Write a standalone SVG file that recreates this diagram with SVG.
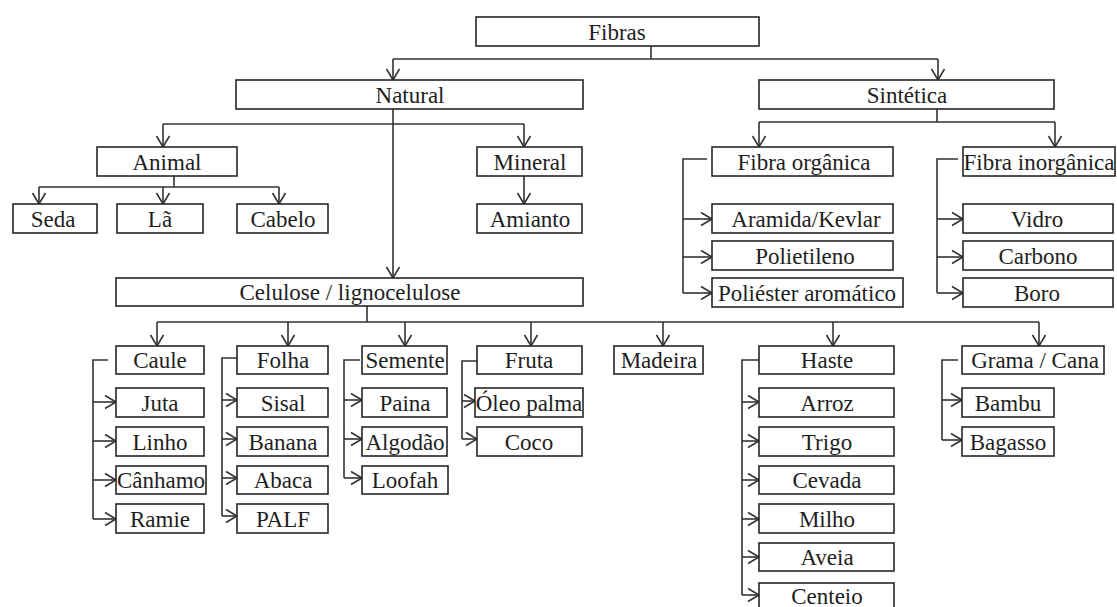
<svg xmlns="http://www.w3.org/2000/svg" width="1117" height="607" viewBox="0 0 1117 607">
<style>
.box{fill:#fff;stroke:#262626;stroke-width:1.6}
.t{font-family:"Liberation Serif","Times New Roman",serif;font-size:23px;fill:#1e1e1e;text-anchor:middle}
.c{fill:none;stroke:#333;stroke-width:1.6}
.a{fill:none;stroke:#333;stroke-width:1.6;marker-end:url(#ah)}
</style>
<defs>
<marker id="ah" markerUnits="userSpaceOnUse" markerWidth="24" markerHeight="24" viewBox="-12 -12 24 24" refX="0" refY="0" orient="auto" overflow="visible">
<path d="M-11,-6.5 L0,0 L-11,6.5" fill="none" stroke="#333" stroke-width="1.6"/>
</marker>
</defs>
<rect width="1117" height="607" fill="#fff"/>
<g id="connectors">
<path class="c" d="M651,46 V59 M393,59 H938"/>
<path class="a" d="M393,59 V80"/>
<path class="a" d="M938,59 V80"/>
<path class="a" d="M393,109 V278"/>
<path class="c" d="M163,124 H524"/>
<path class="a" d="M163,124 V147"/>
<path class="a" d="M524,124 V147"/>
<path class="c" d="M174,176 V187 M39,187 H279"/>
<path class="a" d="M39,187 V204"/>
<path class="a" d="M163,187 V204"/>
<path class="a" d="M279,187 V204"/>
<path class="a" d="M524,176 V204"/>
<path class="c" d="M937,109 V122 M759,122 H1055"/>
<path class="a" d="M759,122 V147"/>
<path class="a" d="M1055,122 V147"/>
<path class="c" d="M707,159 H683 V293"/>
<path class="a" d="M683,219 H712"/>
<path class="a" d="M683,257 H712"/>
<path class="a" d="M683,293 H712"/>
<path class="c" d="M958,159 H937 V293"/>
<path class="a" d="M937,219 H963"/>
<path class="a" d="M937,257 H963"/>
<path class="a" d="M937,293 H963"/>
<path class="c" d="M367,306 V322 M157,322 H1039"/>
<path class="a" d="M157,322 V346"/>
<path class="a" d="M288,322 V346"/>
<path class="a" d="M405,322 V346"/>
<path class="a" d="M531,322 V346"/>
<path class="a" d="M663,322 V346"/>
<path class="a" d="M833,322 V346"/>
<path class="a" d="M1039,322 V346"/>
<path class="c" d="M108,360 H93 V519"/>
<path class="a" d="M93,402 H116"/>
<path class="a" d="M93,441 H116"/>
<path class="a" d="M93,480 H116"/>
<path class="a" d="M93,519 H116"/>
<path class="c" d="M237,358 H222 V516"/>
<path class="a" d="M222,400 H237"/>
<path class="a" d="M222,439 H237"/>
<path class="a" d="M222,478 H237"/>
<path class="a" d="M222,516 H237"/>
<path class="c" d="M360,360 H344 V478"/>
<path class="a" d="M344,400 H362"/>
<path class="a" d="M344,439 H362"/>
<path class="a" d="M344,478 H362"/>
<path class="c" d="M477,361 H462 V439"/>
<path class="a" d="M462,401 H475"/>
<path class="a" d="M462,439 H477"/>
<path class="c" d="M759,360 H742 V595"/>
<path class="a" d="M742,402 H759"/>
<path class="a" d="M742,441 H759"/>
<path class="a" d="M742,480 H759"/>
<path class="a" d="M742,519 H759"/>
<path class="a" d="M742,557 H759"/>
<path class="a" d="M742,595 H759"/>
<path class="c" d="M958,360 H942 V440"/>
<path class="a" d="M942,400 H962"/>
<path class="a" d="M942,440 H962"/>
</g>
<g id="n-fibras"><rect class="box" x="476" y="17" width="283" height="29"/><text class="t" x="617" y="40">Fibras</text></g>
<g id="n-natural"><rect class="box" x="236" y="80" width="347" height="29"/><text class="t" x="410" y="103">Natural</text></g>
<g id="n-sintetica"><rect class="box" x="759" y="80" width="295" height="29"/><text class="t" x="907" y="103">Sintética</text></g>
<g id="n-animal"><rect class="box" x="97" y="147" width="140" height="29"/><text class="t" x="167" y="170">Animal</text></g>
<g id="n-mineral"><rect class="box" x="477" y="147" width="105" height="29"/><text class="t" x="530" y="170">Mineral</text></g>
<g id="n-seda"><rect class="box" x="13" y="204" width="84" height="29"/><text class="t" x="53" y="227">Seda</text></g>
<g id="n-la"><rect class="box" x="117" y="204" width="86" height="29"/><text class="t" x="160" y="227">Lã</text></g>
<g id="n-cabelo"><rect class="box" x="237" y="204" width="91" height="29"/><text class="t" x="283" y="227">Cabelo</text></g>
<g id="n-amianto"><rect class="box" x="477" y="204" width="105" height="29"/><text class="t" x="530" y="227">Amianto</text></g>
<g id="n-fibra-organica"><rect class="box" x="712" y="147" width="181" height="29"/><text class="t" x="804" y="170">Fibra orgânica</text></g>
<g id="n-fibra-inorganica"><rect class="box" x="963" y="147" width="152" height="29"/><text class="t" x="1039" y="170">Fibra inorgânica</text></g>
<g id="n-aramida"><rect class="box" x="712" y="204" width="181" height="29"/><text class="t" x="806" y="227">Aramida/Kevlar</text></g>
<g id="n-polietileno"><rect class="box" x="712" y="241" width="181" height="29"/><text class="t" x="805" y="264">Polietileno</text></g>
<g id="n-poliester"><rect class="box" x="712" y="278" width="191" height="29"/><text class="t" x="807" y="301">Poliéster aromático</text></g>
<g id="n-vidro"><rect class="box" x="963" y="204" width="150" height="29"/><text class="t" x="1037" y="227">Vidro</text></g>
<g id="n-carbono"><rect class="box" x="963" y="241" width="150" height="29"/><text class="t" x="1038" y="264">Carbono</text></g>
<g id="n-boro"><rect class="box" x="963" y="278" width="150" height="29"/><text class="t" x="1037" y="301">Boro</text></g>
<g id="n-celulose"><rect class="box" x="116" y="278" width="467" height="28"/><text class="t" x="350" y="300">Celulose / lignocelulose</text></g>
<g id="n-caule"><rect class="box" x="116" y="346" width="88" height="28"/><text class="t" x="160" y="368">Caule</text></g>
<g id="n-juta"><rect class="box" x="116" y="388" width="88" height="29"/><text class="t" x="160" y="411">Juta</text></g>
<g id="n-linho"><rect class="box" x="116" y="427" width="88" height="29"/><text class="t" x="160" y="450">Linho</text></g>
<g id="n-canhamo"><rect class="box" x="116" y="466" width="90" height="28"/><text class="t" x="161" y="488">Cânhamo</text></g>
<g id="n-ramie"><rect class="box" x="116" y="504" width="88" height="29"/><text class="t" x="160" y="527">Ramie</text></g>
<g id="n-folha"><rect class="box" x="237" y="346" width="91" height="28"/><text class="t" x="283" y="368">Folha</text></g>
<g id="n-sisal"><rect class="box" x="237" y="388" width="91" height="29"/><text class="t" x="283" y="411">Sisal</text></g>
<g id="n-banana"><rect class="box" x="237" y="427" width="91" height="29"/><text class="t" x="283" y="450">Banana</text></g>
<g id="n-abaca"><rect class="box" x="237" y="466" width="91" height="28"/><text class="t" x="283" y="488">Abaca</text></g>
<g id="n-palf"><rect class="box" x="237" y="504" width="91" height="29"/><text class="t" x="283" y="527">PALF</text></g>
<g id="n-semente"><rect class="box" x="362" y="346" width="85" height="28"/><text class="t" x="405" y="368">Semente</text></g>
<g id="n-paina"><rect class="box" x="362" y="388" width="85" height="29"/><text class="t" x="405" y="411">Paina</text></g>
<g id="n-algodao"><rect class="box" x="362" y="427" width="85" height="29"/><text class="t" x="405" y="450">Algodão</text></g>
<g id="n-loofah"><rect class="box" x="362" y="466" width="86" height="28"/><text class="t" x="405" y="488">Loofah</text></g>
<g id="n-fruta"><rect class="box" x="477" y="346" width="105" height="28"/><text class="t" x="529" y="368">Fruta</text></g>
<g id="n-oleo"><rect class="box" x="475" y="388" width="108" height="29"/><text class="t" x="529" y="411">Óleo palma</text></g>
<g id="n-coco"><rect class="box" x="477" y="427" width="105" height="29"/><text class="t" x="529" y="450">Coco</text></g>
<g id="n-madeira"><rect class="box" x="614" y="346" width="89" height="28"/><text class="t" x="659" y="368">Madeira</text></g>
<g id="n-haste"><rect class="box" x="759" y="346" width="135" height="28"/><text class="t" x="827" y="368">Haste</text></g>
<g id="n-arroz"><rect class="box" x="759" y="388" width="135" height="29"/><text class="t" x="827" y="411">Arroz</text></g>
<g id="n-trigo"><rect class="box" x="759" y="427" width="135" height="29"/><text class="t" x="827" y="450">Trigo</text></g>
<g id="n-cevada"><rect class="box" x="759" y="466" width="135" height="28"/><text class="t" x="827" y="488">Cevada</text></g>
<g id="n-milho"><rect class="box" x="759" y="504" width="135" height="29"/><text class="t" x="827" y="527">Milho</text></g>
<g id="n-aveia"><rect class="box" x="759" y="543" width="135" height="28"/><text class="t" x="827" y="565">Aveia</text></g>
<g id="n-centeio"><rect class="box" x="759" y="583" width="135" height="29"/><text class="t" x="827" y="604">Centeio</text></g>
<g id="n-grama"><rect class="box" x="962" y="346" width="142" height="28"/><text class="t" x="1035" y="368">Grama / Cana</text></g>
<g id="n-bambu"><rect class="box" x="962" y="388" width="92" height="29"/><text class="t" x="1008" y="411">Bambu</text></g>
<g id="n-bagasso"><rect class="box" x="962" y="427" width="92" height="29"/><text class="t" x="1008" y="450">Bagasso</text></g>
</svg>
